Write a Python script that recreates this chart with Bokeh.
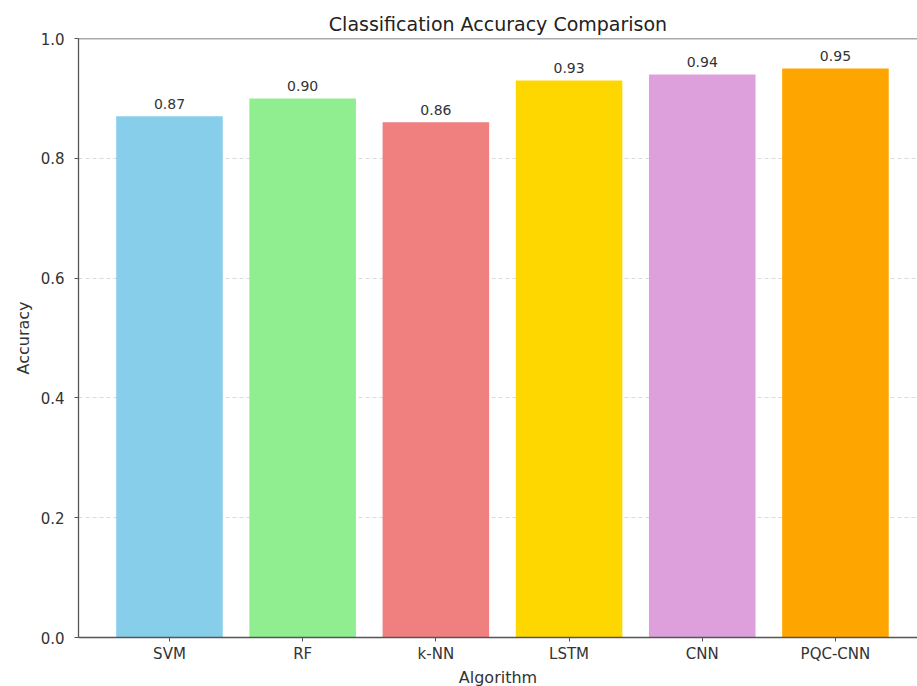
from bokeh.plotting import figure
from bokeh.models import Range1d, FixedTicker, Span, ColumnDataSource
from bokeh.embed import file_html
from bokeh.resources import INLINE
from bokeh.core.properties import value

# Accuracy per algorithm
algorithms = ["SVM", "RF", "k-NN", "LSTM", "CNN", "PQC-CNN"]
accuracy = [0.87, 0.90, 0.86, 0.93, 0.94, 0.95]
bar_colors = ["#87CEEB", "#90EE90", "#F08080", "#FFD700", "#DDA0DD", "#FFA500"]
y_ticks = [0.0, 0.2, 0.4, 0.6, 0.8, 1.0]

positions = list(range(len(algorithms)))
source = ColumnDataSource(data=dict(
    x=positions,
    acc=accuracy,
    color=bar_colors,
    label=[f"{a:.2f}" for a in accuracy],
))

FONT = "DejaVu Sans"

p = figure(
    frame_width=839, frame_height=599,
    min_border_left=78, min_border_right=0, min_border_top=38, min_border_bottom=49,
    x_range=Range1d(-0.683, 5.616), y_range=Range1d(0, 1.0),
    title="Classification Accuracy Comparison",
    toolbar_location=None, output_backend="svg",
)

p.vbar(x="x", top="acc", width=0.8, color="color", line_color=None, source=source)

# value labels above each bar
p.text(x="x", y="acc", text="label", source=source,
       text_align="center", text_baseline="alphabetic", y_offset=-12,
       text_font=value(FONT), text_font_size="14px", text_color="#333333")

# title
p.title.align = "center"
p.title.text_font = FONT
p.title.text_font_size = "19px"
p.title.text_font_style = "normal"
p.title.text_color = "#222222"
p.title.offset = 0
p.title.standoff = 7

# frame: only left, bottom and top spines are visible
p.outline_line_color = None
p.add_layout(Span(location=1.0, dimension="width", line_color="#555555", line_width=1.3))

# grid
p.xgrid.grid_line_color = None
p.ygrid.grid_line_color = "#999999"
p.ygrid.grid_line_alpha = 0.35
p.ygrid.grid_line_dash = "4 3"
p.ygrid.ticker = FixedTicker(ticks=y_ticks)

# axes
p.xaxis.ticker = FixedTicker(ticks=positions)
p.xaxis.major_label_overrides = {i: name for i, name in enumerate(algorithms)}
p.yaxis.ticker = FixedTicker(ticks=y_ticks)
p.yaxis.major_label_overrides = {t: f"{t:.1f}" for t in y_ticks}
p.xaxis.axis_label = "Algorithm"
p.yaxis.axis_label = "Accuracy"

for ax in (p.xaxis, p.yaxis):
    ax.axis_line_color = "#555555"
    ax.axis_line_width = 1.3
    ax.major_tick_line_color = "#555555"
    ax.major_tick_out = 4
    ax.major_tick_in = 0
    ax.minor_tick_line_color = None
    ax.major_label_text_font = FONT
    ax.major_label_text_font_size = "15px"
    ax.major_label_text_color = "#333333"
    ax.axis_label_text_font = FONT
    ax.axis_label_text_font_style = "normal"
    ax.axis_label_text_color = "#333333"
    ax.axis_label_text_font_size = "16px"

p.xaxis.major_label_standoff = 3
p.xaxis.axis_label_standoff = 2
p.yaxis.major_label_standoff = 10
p.yaxis.axis_label_standoff = 5

open("out.html", "w").write(file_html(p, INLINE))
